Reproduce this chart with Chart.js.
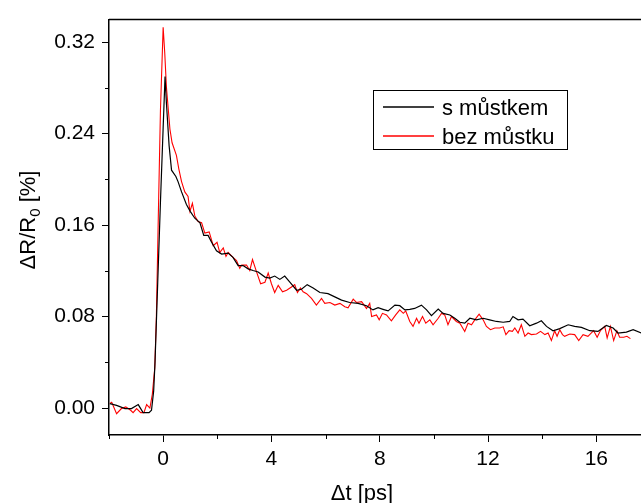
<!DOCTYPE html>
<html lang="cs">
<head>
<meta charset="UTF-8">
<title>ΔR/R0 vs Δt</title>
<script src="https://cdn.jsdelivr.net/npm/chart.js@4.4.4/dist/chart.umd.js"></script>
<style>
  html, body { margin: 0; padding: 0; background: #fff; }
</style>
</head>
<body>
<canvas id="myChart" width="641" height="503"></canvas>
<script>
// časová osa [ps] a signál [%] - s můstkem
const tBlack = [-1.97, -1.72, -1.41, -1.17, -0.92, -0.74, -0.52, -0.43, -0.35, -0.3,
  -0.2, -0.1, 0, 0.07, 0.12, 0.22, 0.31, 0.47, 0.55, 0.68,
  0.86, 1.0, 1.17, 1.36, 1.5, 1.66, 1.79, 1.97, 2.16, 2.4,
  2.58, 2.77, 2.95, 3.14, 3.32, 3.51, 3.76, 3.94, 4.12, 4.31,
  4.49, 4.68, 4.93, 5.11, 5.32, 5.54, 5.79, 6.09, 6.34, 6.59,
  6.89, 7.2, 7.51, 7.75, 7.94, 8.12, 8.31, 8.56, 8.74, 8.93,
  9.11, 9.29, 9.54, 9.73, 9.91, 10.16, 10.34, 10.59, 10.77, 10.96,
  11.14, 11.33, 11.57, 11.82, 12.06, 12.31, 12.56, 12.8, 12.92, 13.11,
  13.29, 13.54, 13.79, 13.97, 14.16, 14.4, 14.65, 14.96, 15.2, 15.45,
  15.76, 16.06, 16.37, 16.62, 16.8, 17.11, 17.36, 17.67];
const rBlack = [0.0038, 0.0023, -0.0005, -0.0005, 0.003, -0.004, -0.004, -0.002, 0.015, 0.04,
  0.11, 0.18, 0.245, 0.29, 0.267, 0.2295, 0.208, 0.2025, 0.198, 0.189,
  0.178, 0.172, 0.166, 0.162, 0.151, 0.151, 0.145, 0.1375, 0.1346, 0.1355,
  0.1318, 0.1246, 0.1246, 0.1217, 0.1203, 0.119, 0.1145, 0.1136, 0.1154, 0.1125,
  0.1154, 0.110, 0.103, 0.1039, 0.1079, 0.105, 0.101, 0.100, 0.0972, 0.0944,
  0.0923, 0.0915, 0.0895, 0.0858, 0.0877, 0.0863, 0.0849, 0.090, 0.0895, 0.0858,
  0.0863, 0.0871, 0.090, 0.0858, 0.0808, 0.0866, 0.0828, 0.0814, 0.0785, 0.075,
  0.0742, 0.0785, 0.0771, 0.0785, 0.0771, 0.0757, 0.075, 0.0757, 0.080, 0.0771,
  0.0777, 0.072, 0.0742, 0.0763, 0.0714, 0.0676, 0.0694, 0.0728, 0.0714, 0.0705,
  0.0676, 0.067, 0.0722, 0.070, 0.0656, 0.0664, 0.0685, 0.0656];

// bez můstku
const tRed = [-1.97, -1.9, -1.72, -1.54, -1.38, -1.2, -1.11, -0.98, -0.83, -0.71,
  -0.61, -0.49, -0.4, -0.31, -0.25, -0.18, -0.1, 0, 0.06, 0.12,
  0.25, 0.33, 0.49, 0.58, 0.68, 0.8, 0.92, 0.99, 1.08, 1.17,
  1.29, 1.42, 1.54, 1.7, 1.85, 1.99, 2.09, 2.22, 2.32, 2.4,
  2.58, 2.71, 2.83, 2.9, 3.08, 3.2, 3.3, 3.45, 3.6, 3.76,
  3.88, 4.0, 4.12, 4.25, 4.41, 4.56, 4.74, 4.86, 4.96, 5.07,
  5.17, 5.3, 5.48, 5.66, 5.85, 5.97, 6.16, 6.34, 6.53, 6.71,
  6.83, 7.02, 7.14, 7.33, 7.51, 7.63, 7.7, 7.88, 7.98, 8.1,
  8.25, 8.43, 8.59, 8.74, 8.87, 8.96, 9.11, 9.23, 9.36, 9.45,
  9.58, 9.7, 9.85, 9.97, 10.16, 10.28, 10.4, 10.52, 10.65, 10.83,
  10.96, 11.14, 11.26, 11.39, 11.51, 11.67, 11.82, 11.94, 12.09, 12.25,
  12.43, 12.56, 12.66, 12.78, 12.9, 12.99, 13.11, 13.23, 13.36, 13.48,
  13.6, 13.79, 13.94, 14.1, 14.22, 14.34, 14.46, 14.55, 14.65, 14.75,
  14.83, 15.02, 15.2, 15.35, 15.51, 15.69, 15.9, 16.03, 16.15, 16.31,
  16.4, 16.52, 16.64, 16.76, 16.86, 17.01, 17.13, 17.26];
const rRed = [0.004, 0.005, -0.005, -0.0005, 0.001, -0.002, -0.004, -0.0005, -0.004, -0.004,
  0.003, 0.0, 0.012, 0.035, 0.08, 0.166, 0.26, 0.333, 0.31, 0.281,
  0.244, 0.232, 0.221, 0.209, 0.198, 0.189, 0.185, 0.172, 0.179, 0.168,
  0.163, 0.162, 0.153, 0.154, 0.142, 0.145, 0.136, 0.140, 0.1326, 0.136,
  0.1318, 0.129, 0.1222, 0.125, 0.125, 0.1203, 0.1298, 0.119, 0.1087, 0.110,
  0.118, 0.1087, 0.101, 0.1073, 0.1016, 0.103, 0.1059, 0.1079, 0.101, 0.105,
  0.1016, 0.100, 0.0958, 0.090, 0.0958, 0.0915, 0.0923, 0.090, 0.0915, 0.0886,
  0.0877, 0.0952, 0.0923, 0.093, 0.0871, 0.0915, 0.080, 0.0814, 0.0771, 0.0828,
  0.0814, 0.0763, 0.0814, 0.0858, 0.0828, 0.0849, 0.0757, 0.0714, 0.0785, 0.0742,
  0.080, 0.0742, 0.0771, 0.0728, 0.0785, 0.0828, 0.0814, 0.0728, 0.080, 0.0757,
  0.0742, 0.067, 0.0742, 0.0728, 0.0771, 0.082, 0.0771, 0.0714, 0.0685, 0.070,
  0.070, 0.071, 0.0642, 0.0676, 0.067, 0.070, 0.0656, 0.0728, 0.0627, 0.0656,
  0.0642, 0.0647, 0.067, 0.0642, 0.0656, 0.059, 0.0676, 0.0627, 0.0685, 0.0642,
  0.0627, 0.0647, 0.0642, 0.059, 0.0642, 0.0627, 0.0676, 0.0619, 0.0676, 0.0714,
  0.0613, 0.0714, 0.059, 0.0676, 0.0619, 0.0619, 0.0627, 0.0607];

const seriesNames = ['s můstkem', 'bez můstku'];
const xMajor = [0, 4, 8, 12, 16];
const xMinor = [-2, 2, 6, 10, 14];
const yMajor = [0, 0.08, 0.16, 0.24, 0.32];
const yMinor = [0.04, 0.12, 0.20, 0.28];

const FONT = '"Liberation Sans", Arial, sans-serif';

// rámeček nahoře, vedlejší tiky, legenda, popisky os
const extras = {
  id: 'extras',
  afterDraw(chart) {
    const { ctx, chartArea: a, scales: { x, y } } = chart;
    ctx.save();
    ctx.strokeStyle = '#000';
    ctx.lineWidth = 1.5;
    ctx.beginPath();
    ctx.moveTo(a.left, a.top);
    ctx.lineTo(a.right, a.top);
    ctx.stroke();

    ctx.lineWidth = 1;
    xMinor.forEach(v => {
      const px = Math.round(x.getPixelForValue(v)) + 0.5;
      ctx.beginPath();
      ctx.moveTo(px, a.bottom);
      ctx.lineTo(px, a.bottom + 4);
      ctx.stroke();
    });
    yMinor.forEach(v => {
      const py = Math.round(y.getPixelForValue(v)) + 0.5;
      ctx.beginPath();
      ctx.moveTo(a.left, py);
      ctx.lineTo(a.left - 4, py);
      ctx.stroke();
    });

    // legenda
    ctx.lineWidth = 1;
    ctx.strokeRect(373.5, 90.5, 194, 59);
    const colors = ['#000', '#ff0000'];
    const rows = [107, 136];
    ctx.font = '22px ' + FONT;
    ctx.fillStyle = '#000';
    ctx.textBaseline = 'alphabetic';
    seriesNames.forEach((name, i) => {
      ctx.strokeStyle = colors[i];
      ctx.lineWidth = 1.5;
      ctx.beginPath();
      ctx.moveTo(383, rows[i]);
      ctx.lineTo(434, rows[i]);
      ctx.stroke();
      ctx.fillText(name, 442, rows[i] + 8);
    });

    // popisek osy x
    ctx.textAlign = 'center';
    ctx.fillText('\u0394t [ps]', 362, 500);

    // popisek osy y s dolním indexem
    ctx.translate(27, 220);
    ctx.rotate(-Math.PI / 2);
    const big = '22px ' + FONT, small = '15px ' + FONT;
    ctx.font = big;
    const w1 = ctx.measureText('\u0394R/R').width;
    const w3 = ctx.measureText(' [%]').width;
    ctx.font = small;
    const w2 = ctx.measureText('0').width;
    let sx = -(w1 + w2 + w3) / 2;
    ctx.textAlign = 'left';
    ctx.textBaseline = 'alphabetic';
    ctx.font = big;
    ctx.fillText('\u0394R/R', sx, 8);
    ctx.font = small;
    ctx.fillText('0', sx + w1, 13);
    ctx.font = big;
    ctx.fillText(' [%]', sx + w1 + w2, 8);
    ctx.restore();
  }
};

const ctx = document.getElementById('myChart').getContext('2d');
const myChart = new Chart(ctx, {
  type: 'scatter',
  data: {
    datasets: [
      {
        label: seriesNames[0],
        data: tBlack.map((t, i) => ({ x: t, y: rBlack[i] })),
        borderColor: '#000',
        borderWidth: 1.2,
        showLine: true,
        pointRadius: 0,
        tension: 0
      },
      {
        label: seriesNames[1],
        data: tRed.map((t, i) => ({ x: t, y: rRed[i] })),
        borderColor: '#ff0000',
        borderWidth: 1.1,
        showLine: true,
        pointRadius: 0,
        tension: 0
      }
    ]
  },
  options: {
    responsive: false,
    animation: false,
    layout: { padding: { top: 14, right: 0, left: 0, bottom: 0 } },
    plugins: {
      legend: { display: false },
      tooltip: { enabled: false }
    },
    scales: {
      x: {
        type: 'linear',
        position: 'bottom',
        min: -2,
        max: 17.65,
        afterBuildTicks: s => { s.ticks = xMajor.map(v => ({ value: v })); },
        afterFit: s => { s.height = 68; },
        border: { display: true, color: '#000', width: 1.5 },
        grid: { drawOnChartArea: false, drawTicks: true, tickLength: 7, color: '#000', lineWidth: 1 },
        ticks: {
          autoSkip: false,
          maxRotation: 0,
          padding: 5,
          color: '#000',
          font: { family: FONT, size: 21 },
          callback: v => String(v)
        }
      },
      y: {
        type: 'linear',
        min: -0.0236,
        max: 0.3397,
        afterBuildTicks: s => { s.ticks = yMajor.map(v => ({ value: v })); },
        afterFit: s => { s.width = 109; },
        border: { display: true, color: '#000', width: 1.5 },
        grid: { drawOnChartArea: false, drawTicks: true, tickLength: 7, color: '#000', lineWidth: 1 },
        ticks: {
          autoSkip: false,
          padding: 7,
          color: '#000',
          font: { family: FONT, size: 21 },
          callback: v => v.toFixed(2)
        }
      }
    }
  },
  plugins: [extras]
});
</script>
</body>
</html>
